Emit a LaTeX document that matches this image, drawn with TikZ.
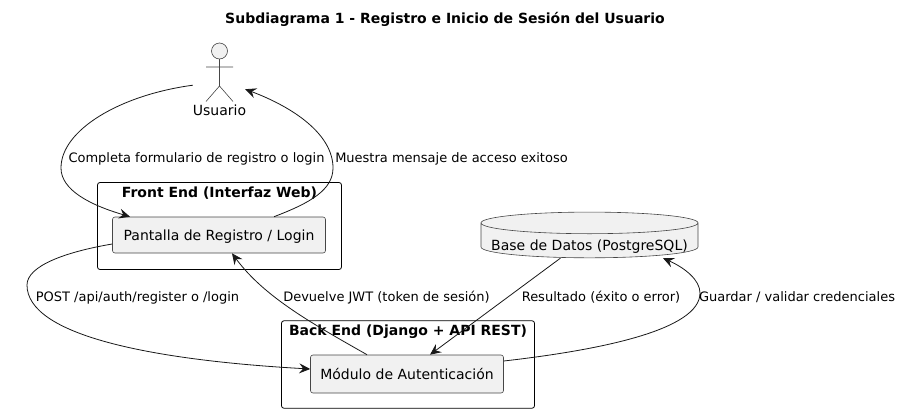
\documentclass[tikz,border=0pt]{standalone}
\usepackage{fontspec}
\setmainfont{DejaVu Sans}
\usetikzlibrary{arrows.meta,shapes.geometric}

\definecolor{boxfill}{HTML}{F1F1F1}
\definecolor{inkline}{HTML}{181818}

\begin{document}
\begin{tikzpicture}[
    x=1pt, y=-1pt,
    every node/.style={font=\fontsize{13}{15}\selectfont, text=black, inner sep=0pt, text height=10pt, text depth=3pt},
    frame/.style={draw=black, line width=.8pt, rounded corners=2.5pt},
    framelabel/.style={font=\fontsize{14}{16}\selectfont\bfseries},
    compbox/.style={font=\fontsize{14}{16}\selectfont, text depth=0pt, draw=inkline!80, line width=.6pt, fill=boxfill, rounded corners=2.5pt},
    dbshape/.style={font=\fontsize{14}{16}\selectfont, cylinder, shape border rotate=90, aspect=.11, draw=inkline!80, line width=.6pt,
        cylinder uses custom fill, cylinder body fill=boxfill, cylinder end fill=boxfill},
    conn/.style={draw=inkline, line width=.8pt, -{Stealth[length=11pt, width=10pt, inset=4pt]}},
]
\useasboundingbox (0,0) rectangle (902,413);

\node[framelabel] (titulo) at (445,19.5) {Subdiagrama 1 - Registro e Inicio de Sesión del Usuario};

% frames
\node[frame, minimum width=244pt, minimum height=87pt] (frontend) at (219.5,226) {};
\node[framelabel] (frontendlabel) at (219.5,193.5) {Front End (Interfaz Web)};
\node[frame, minimum width=253pt, minimum height=87.5pt] (backend) at (408,364.5) {};
\node[framelabel] (backendlabel) at (408,332) {Back End (Django + API REST)};

% components
\node[compbox, minimum width=213pt, minimum height=36pt] (pantalla) at (219,235) {Pantalla de Registro / Login};
\node[compbox, minimum width=193pt, minimum height=38pt] (modulo) at (407,374) {Módulo de Autenticación};
\node[dbshape, minimum width=217pt, minimum height=45pt] (basedatos) at (589.5,240.5) {\raisebox{-6pt}{Base de Datos (PostgreSQL)}};

% actor
\node[minimum width=52pt, minimum height=46pt] (usuario) at (219,66) {};
\draw[draw=inkline!80, line width=.6pt, fill=boxfill] (219.5,51) circle (8);
\draw[draw=inkline!80, line width=.6pt] (219.5,59) -- (219.5,86) (206,67) -- (233,67)
    (206,101.5) -- (219.5,86) -- (233,101.5);
\node[font=\fontsize{14}{16}\selectfont] (usuariolabel) at (219.5,111.5) {Usuario};

% connectors
\draw[conn] ([yshift=4pt]usuario.south west) .. controls (120,95) and (61,130) .. (61,168)
    .. controls (61,190) and (90,205) .. ([xshift=-89pt]pantalla.north);
\draw[conn] ([xshift=55pt]pantalla.north) .. controls (310,203) and (333,190) .. (333,168)
    .. controls (333,135) and (295,108) .. (usuario.south east);
\draw[conn] ([yshift=-9pt]pantalla.west) .. controls (65,252) and (27,266) .. (27,285)
    .. controls (27,335) and (150,360) .. ([yshift=5pt]modulo.west);
\draw[conn] ([xshift=-40pt]modulo.north) .. controls (315,325) and (265,298) .. ([xshift=13pt]pantalla.south);
\draw[conn] ([xshift=-29pt]basedatos.south) -- ([xshift=23pt]modulo.north);
\draw[conn] ([yshift=13pt]modulo.east) .. controls (600,350) and (700,330) .. (700,293)
    .. controls (700,280) and (685,268) .. ([xshift=73.5pt]basedatos.south);

% labels
\node (completa) at (196.5,159) {Completa formulario de registro o login};
\node (muestra) at (451.5,159) {Muestra mensaje de acceso exitoso};
\node (post) at (137.5,298) {POST /api/auth/register o /login};
\node (devuelve) at (386.5,298) {Devuelve JWT (token de sesión)};
\node (resultado) at (601,298) {Resultado (éxito o error)};
\node (guardar) at (797,298) {Guardar / validar credenciales};
\end{tikzpicture}
\end{document}
